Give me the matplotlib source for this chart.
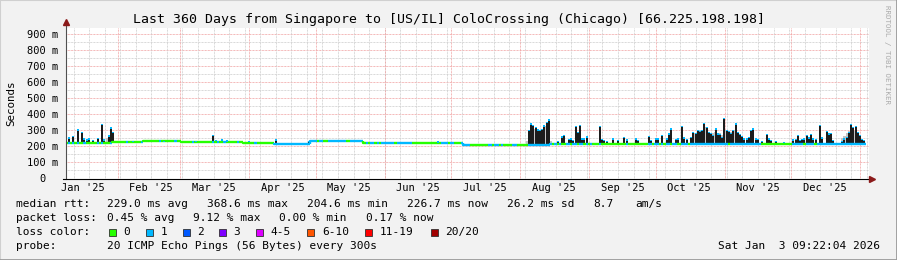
import datetime as dt
import numpy as np
import matplotlib
matplotlib.use("Agg")
import matplotlib.pyplot as plt
import matplotlib.dates as mdates
from matplotlib.collections import LineCollection
from matplotlib.patches import Rectangle
from matplotlib.lines import Line2D

W, H = 897, 260
START = dt.datetime(2025, 1, 8, 9, 22, 4)
N_DAYS = 360

# median rtt baseline, piecewise constant: first day of segment -> ms
base_start = [0, 21, 35, 52, 80, 94, 110, 134, 144, 179, 218]
base_ms = [222, 226, 230, 225, 222, 216, 231, 219, 221, 211, 216]

# loss bucket of the median line, one char per day (0 = no loss, 1 = one lost ping)
loss_code = (
    "010101001000001010001000000100"
    "000010000000100000010000000100"
    "000000101001000001000000010000"
    "000011111111111111111110110011"
    "111111001111110101101011111101"
    "111111000000000000011101100001"
    "110000000011011010000110000011"
    "111111111010100110110110101000"
    "100000000000100000000011011010"
    "110110011101111111111111111101"
    "111111111111100000000000000111"
    "110111101111111111111111111111"
)

# days with rtt spikes and the top of the spike (ms)
spike_day = [1, 3, 5, 7, 8, 9, 10, 12, 14, 16, 17, 19, 20, 21,
             30, 44, 58, 66, 67, 70, 72, 82, 94, 109, 155, 167, 178,
             208, 209, 210, 211, 212, 213, 214, 215, 216, 217,
             221, 223, 224, 226, 227, 228, 229, 230, 231, 232, 233, 234,
             240, 241, 242, 243, 246, 248, 251, 252, 256, 257,
             262, 263, 265, 266, 268, 270, 271, 272, 274, 275, 277, 278, 279,
             281, 282, 283, 284, 285, 286, 287, 288, 289, 290, 291,
             292, 293, 294, 295, 296, 297, 298, 299, 300, 301, 302, 303,
             304, 305, 306, 307, 308, 309, 310, 311, 313, 315, 316, 317, 319, 323,
             327, 328, 329, 330, 331, 332, 333, 334, 335, 336, 337, 339, 340,
             342, 343, 344, 345, 349, 350, 351, 352, 353, 354, 355, 356, 357, 358, 359]
spike_ms = [256, 264, 305, 288, 250, 243, 249, 239, 254, 338, 243, 268, 318, 290,
            232, 234, 232, 272, 240, 243, 236, 232, 243, 234, 228, 230, 224,
            300, 342, 335, 320, 305, 300, 310, 330, 350, 368,
            235, 262, 270, 245, 249, 240, 326, 290, 332, 250, 249, 262,
            325, 245, 240, 235, 249, 240, 258, 243, 249, 240,
            264, 240, 249, 249, 270, 250, 280, 311, 245, 250, 326, 255, 245,
            260, 290, 285, 301, 295, 300, 346, 320, 290, 285, 270,
            311, 280, 275, 260, 375, 300, 295, 285, 300, 342, 290, 275,
            265, 249, 250, 260, 301, 311, 250, 245, 235, 275, 250, 240, 232, 228,
            243, 245, 270, 240, 245, 250, 270, 255, 276, 250, 245, 332, 255,
            296, 280, 284, 240, 235, 249, 260, 290, 338, 320, 326, 290, 270, 245, 240]

# grey smoke (ping spread) around the busy periods
smoke_day = [18, 19, 20, 21,
             207, 208, 209, 210, 211, 212, 213, 214, 215, 216, 217, 218,
             281, 282, 283, 284, 285, 286, 287, 288, 289, 290, 291, 292,
             293, 294, 295, 296, 297, 298, 299, 300, 301, 302, 303,
             349, 350, 351, 352, 353, 354, 355, 356, 357]
smoke_ms = [250, 262, 275, 265,
            235, 290, 315, 320, 310, 300, 300, 310, 325, 340, 350, 235,
            250, 280, 285, 295, 300, 300, 320, 310, 290, 285, 280, 290,
            285, 280, 270, 300, 300, 295, 290, 290, 300, 280, 260,
            250, 265, 280, 295, 305, 300, 295, 280, 260]

month_labels = ["Jan '25", "Feb '25", "Mar '25", "Apr '25", "May '25", "Jun '25",
                "Jul '25", "Aug '25", "Sep '25", "Oct '25", "Nov '25", "Dec '25"]
y_ticks = [0, 100, 200, 300, 400, 500, 600, 700, 800, 900]
y_labels = ["0  ", "100 m", "200 m", "300 m", "400 m", "500 m",
            "600 m", "700 m", "800 m", "900 m"]

rtt_stats = ["229.0 ms avg", "368.6 ms max", "204.6 ms min", "226.7 ms now",
             "26.2 ms sd", "8.7", "am/s"]
loss_stats = ["0.45 % avg", "9.12 % max", "0.00 % min", "0.17 % now"]
loss_names = ["0", "1", "2", "3", "4-5", "6-10", "11-19", "20/20"]
loss_colors = ["#26ff00", "#00b8ff", "#0059ff", "#7e00ff",
               "#dd00ff", "#ff5500", "#ff0000", "#a10000"]

MONO = "DejaVu Sans Mono"
plt.rcParams["font.family"] = MONO

fig = plt.figure(figsize=(W / 100, H / 100), dpi=100)
fig.patch.set_facecolor("#f2f2f2")


def fx(px):
    return px / W


def fy(py):
    return 1 - py / H


PX_PER_DAY = 800 / 360.0
left_px, right_px, top_px, bot_px = 65.5, 869, 28, 178.5
ax = fig.add_axes([fx(left_px), fy(bot_px), fx(right_px - left_px), (bot_px - top_px) / H])
ax.set_facecolor("white")
x0 = mdates.date2num(START)
ax.set_xlim(x0, x0 + (right_px - left_px) / PX_PER_DAY)
ax.set_ylim(0, (bot_px - top_px) / (145 / 900.0))
for s in ax.spines.values():
    s.set_visible(False)

# grids
dots = (0, (0.75, 0.75))
for v in np.arange(50, 950, 100):
    ax.axhline(v, color="#cccccc", lw=0.7, ls=dots, zorder=0)
for v in y_ticks[1:]:
    ax.axhline(v, color="#f0a0a0", lw=0.7, ls=dots, zorder=0)
d = dt.datetime(2025, 1, 12)
while d < START + dt.timedelta(days=362):
    ax.axvline(mdates.date2num(d), color="#cccccc", lw=0.7, ls=dots, zorder=0)
    d += dt.timedelta(days=7)
for m in range(2, 14):
    ms = dt.datetime(2025 + (m - 1) // 12, (m - 1) % 12 + 1, 1)
    ax.axvline(mdates.date2num(ms), color="#f0a0a0", lw=0.7, ls=dots, zorder=0)

day_x = x0 + np.arange(N_DAYS)
base_idx = np.searchsorted(base_start, np.arange(N_DAYS), side="right") - 1
base = np.array(base_ms)[base_idx]

# smoke
sd = np.array(smoke_day)
ax.bar(day_x[sd] + 0.5, np.array(smoke_ms) - base[sd], bottom=base[sd], width=1.0,
       color="#c4c4c4", linewidth=0, zorder=1)

# black spikes
kd = np.array(spike_day)
ax.bar(day_x[kd] + 0.5, np.array(spike_ms) - base[kd], bottom=base[kd], width=0.9,
       color="#1c1c1c", linewidth=0, zorder=2)

# median line coloured by loss
segs, cols = [], []
for i in range(N_DAYS):
    prev = base[i - 1] if i > 0 else base[i]
    segs.append([(day_x[i], prev), (day_x[i], base[i]), (day_x[i] + 1, base[i])])
    cols.append(loss_colors[int(loss_code[i])])
ax.add_collection(LineCollection(segs, colors=cols, linewidths=1.7, zorder=3))

# coloured tips on the spikes
ax.bar(day_x[kd] + 0.5, 8, bottom=np.array(spike_ms) - 8, width=0.9,
       color="#00b8ff", linewidth=0, zorder=4)

# axes ticks / labels
ax.set_yticks(y_ticks)
ax.set_yticklabels(y_labels)
mids = [mdates.date2num(dt.datetime(2025, m, 16)) for m in range(1, 13)]
ax.set_xticks(mids)
ax.set_xticklabels(month_labels)
ax.tick_params(axis="both", length=0, labelsize=7.5, colors="black")
ax.tick_params(axis="y", pad=5)
ax.tick_params(axis="x", pad=3)

# axis lines with arrows
fig.add_artist(Line2D([fx(66), fx(66)], [fy(bot_px), fy(22)], color="#505050", lw=0.8))
fig.add_artist(Line2D([fx(63), fx(870)], [fy(bot_px), fy(bot_px)], color="black", lw=0.8))
fig.add_artist(Line2D([fx(66)], [fy(22)], marker="^", ms=4, color="#8b1a1a",
                      transform=fig.transFigure))
fig.add_artist(Line2D([fx(872)], [fy(bot_px)], marker=">", ms=4, color="#8b1a1a",
                      transform=fig.transFigure))

# title, axis label, watermark
fig.text(fx(448.5), fy(19), "Last 360 Days from Singapore to [US/IL] ColoCrossing (Chicago) [66.225.198.198]",
         ha="center", va="center", fontsize=9.5)
fig.text(fx(11), fy(103), "Seconds", rotation=90, ha="center", va="center", fontsize=7.8)
fig.text(fx(887), fy(5), "RRDTOOL / TOBI OETIKER", rotation=270, ha="center", va="top",
         fontsize=5.4, color="#ababab")

# legend
FS = 8
fig.text(fx(16), fy(204), "median rtt:", va="center", fontsize=FS)
for x, t in zip([107, 207, 307, 407, 507, 593, 635], rtt_stats):
    fig.text(fx(x), fy(204), t, va="center", fontsize=FS)
fig.text(fx(16), fy(218), "packet loss:", va="center", fontsize=FS)
for x, t in zip([107, 193, 279, 366], loss_stats):
    fig.text(fx(x), fy(218), t, va="center", fontsize=FS)
fig.text(fx(16), fy(232), "loss color:", va="center", fontsize=FS)
for xs, xl, name, c in zip([109, 146, 183, 219, 256, 307, 365, 431],
                           [123, 161, 197, 233, 270, 322, 380, 445],
                           loss_names, loss_colors):
    fig.add_artist(Rectangle((fx(xs), fy(236)), fx(7), 7 / H, facecolor=c,
                             edgecolor="#303030", lw=0.6, transform=fig.transFigure))
    fig.text(fx(xl), fy(232), name, va="center", fontsize=FS)
fig.text(fx(16), fy(246), "probe:", va="center", fontsize=FS)
fig.text(fx(107), fy(246), "20 ICMP Echo Pings (56 Bytes) every 300s", va="center", fontsize=FS)
fig.text(fx(880), fy(246), "Sat Jan  3 09:22:04 2026", ha="right", va="center", fontsize=FS)

# frame around the image
fig.add_artist(Line2D([0, 0, 1], [0, 1, 1], color="#d0d0d0", lw=1.5, transform=fig.transFigure))
fig.add_artist(Line2D([0, 1, 1], [0, 0, 1], color="#9a9a9a", lw=2.0, transform=fig.transFigure))

fig.savefig("out.png", dpi=100, facecolor=fig.get_facecolor())
